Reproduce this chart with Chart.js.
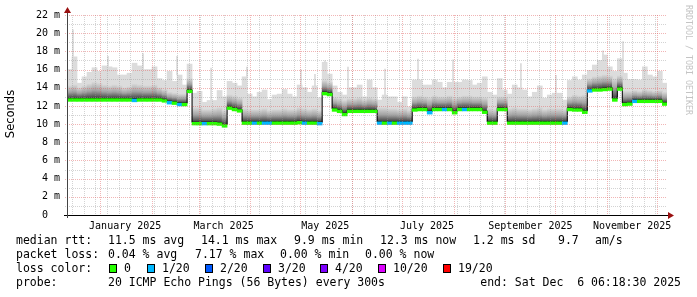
<!DOCTYPE html>
<html>
<head>
<meta charset="utf-8">
<script src="https://cdn.jsdelivr.net/npm/chart.js@4.4.1/dist/chart.umd.min.js"></script>
<style>
html, body { margin: 0; padding: 0; background: #fff; }
</style>
</head>
<body>
<canvas id="smoke" width="697" height="297"></canvas>
<script>
// x axis: days since 2025-01-01 00:00
var X_MIN = -19.9, X_MAX = 339.9;
var START = -19.9, STEP = 3;   // one sample every 3 days

// median rtt (ms)
var MEDIAN = [
  12.8,12.8,12.8,12.8,12.8,12.8,12.8,12.8,12.8,12.8,
  12.8,12.8,12.8,12.75,12.8,12.8,12.8,12.8,12.8,12.7,
  12.5,12.45,12.3,12.3,13.75,10.2,10.2,10.2,10.2,10.2,
  10.15,9.95,11.9,11.75,11.6,10.25,10.25,10.25,10.25,10.25,
  10.25,10.25,10.25,10.25,10.25,10.25,10.3,10.25,10.25,10.25,
  10.2,13.5,13.4,11.7,11.55,11.2,11.55,11.55,11.55,11.55,
  11.55,11.55,10.25,10.25,10.25,10.25,10.25,10.25,10.25,11.7,
  11.75,11.75,11.4,11.75,11.75,11.75,11.75,11.4,11.75,11.75,
  11.75,11.75,11.75,11.45,10.25,10.25,11.75,11.75,10.25,10.25,
  10.25,10.25,10.25,10.25,10.25,10.25,10.25,10.25,10.25,10.25,
  11.75,11.7,11.7,11.45,13.8,13.9,13.9,13.95,14.0,12.8,
  14.0,12.3,12.35,12.65,12.65,12.65,12.65,12.65,12.65,12.35
];
// top of the dense smoke (ms)
var SMOKE_HI = [
  14.2,14.3,14.0,14.2,14.4,14.6,14.5,14.3,14.2,14.3,
  14.2,14.0,14.1,14.4,14.3,14.2,14.2,14.3,14.0,13.8,
  13.5,13.4,13.3,13.3,15.0,11.8,11.8,11.6,11.6,11.7,
  11.8,11.5,13.2,13.1,12.9,11.7,11.6,11.6,11.6,11.7,
  11.5,11.6,11.6,11.7,11.6,11.6,11.8,11.7,11.6,11.7,
  11.5,14.8,14.6,12.9,12.8,12.6,12.8,12.8,12.9,12.7,
  12.9,12.8,11.8,11.8,11.7,11.7,11.6,11.7,11.5,13.0,
  13.1,13.0,12.9,13.1,13.0,13.0,13.1,12.9,13.0,13.1,
  13.1,13.0,13.0,12.9,11.7,11.6,13.0,13.0,11.7,11.8,
  11.7,11.7,11.6,11.7,11.8,11.6,11.7,11.7,11.7,11.6,
  13.0,13.2,13.1,13.2,15.0,15.2,15.3,15.4,15.3,15.0,
  15.3,13.6,13.6,13.7,13.6,13.8,13.7,13.6,13.7,13.5
];
// max rtt (ms)
var MAX = [
  16.0,17.4,14.5,15.2,15.7,16.2,15.8,16.4,16.3,16.2,
  15.4,15.4,15.6,16.7,16.4,16.0,16.0,16.3,15.0,14.8,
  15.8,14.7,15.4,14.3,16.6,13.4,13.6,12.4,12.6,12.6,
  13.7,13.0,14.7,14.5,14.2,15.2,13.3,13.0,13.5,13.75,
  12.7,13.2,13.3,13.8,13.3,13.0,14.3,14.0,13.5,14.2,
  12.9,16.8,15.5,14.2,13.5,13.2,14.0,14.0,14.3,13.0,
  14.85,14.0,12.65,13.2,13.0,13.0,12.4,13.0,11.9,14.85,
  14.85,14.3,14.3,14.85,14.6,14.0,14.6,14.6,14.6,14.85,
  14.8,14.3,14.5,15.2,13.5,13.2,15.0,13.75,13.3,14.3,
  14.0,13.75,13.0,13.5,14.2,12.85,13.2,13.4,13.4,12.65,
  14.8,15.2,14.85,15.4,15.9,16.5,17.0,17.6,16.3,15.8,
  17.2,15.6,14.9,14.9,14.85,16.3,15.4,15.2,15.8,14.5
];
// lost pings out of 20
var LOSS = [
  0,0,0,0,0,0,0,0,0,0,
  0,0,0,1,0,0,0,0,0,0,
  1,0,1,0,0,0,0,1,0,0,
  0,0,0,0,0,0,0,1,0,1,
  1,0,0,0,0,0,0,1,0,0,
  1,0,0,0,0,0,0,0,0,0,
  0,0,1,0,1,0,1,1,1,0,
  0,0,1,0,0,1,0,0,0,1,
  0,0,0,0,0,0,0,0,0,0,
  0,0,0,0,0,0,0,0,0,1,
  0,0,0,0,1,0,0,0,0,0,
  0,0,0,1,0,0,0,0,0,0
];
// thin single-sample spikes
var SPIKE_DAY = [-16.3, 4.7, 25.7, 46.1, 66.5, 88.0, 120.4, 128.8, 134.8, 148.6, 170.8, 190.6, 211.6, 241.0, 252.3, 273.3, 301.5, 313.5];
var SPIKE_VAL = [20.4, 17.5, 17.8, 17.5, 16.2, 16.3, 16.0, 15.5, 17.0, 16.3, 16.1, 17.2, 17.1, 15.0, 16.7, 15.4, 18.1, 19.1];

var MONTH_LABELS = ["January 2025", "March 2025", "May 2025", "July 2025", "September 2025", "November 2025"];
var MONTH_LABEL_DAY = [15, 74, 135, 196, 258, 319];
var LOSS_LEVELS = [0, 1, 2, 3, 4, 10, 19];
var LOSS_COLORS = ["#26ff00", "#00b8ff", "#0059ff", "#5e00ff", "#7e00ff", "#dd00ff", "#ff0000"];
var LOSS_NAMES = ["0", "1/20", "2/20", "3/20", "4/20", "10/20", "19/20"];

var MONO = '"DejaVu Sans Mono", monospace';

function dayOf(y, m, d) { return (Date.UTC(y, m, d) - Date.UTC(2025, 0, 1)) / 86400000; }
function centre(i) { return START + STEP * (i + 0.5); }

var maxBars = MAX.map(function (v, i) { return {x: centre(i), y: [MEDIAN[i], v]}; });
var hiBars = SMOKE_HI.map(function (v, i) { return {x: centre(i), y: [MEDIAN[i], v]}; });
var lossBars = MEDIAN.map(function (v, i) { return {x: centre(i), y: [v - 0.3, v]}; });
var medLine = MEDIAN.map(function (v, i) { return {x: START + STEP * i, y: v}; });
medLine.push({x: START + STEP * MEDIAN.length, y: MEDIAN[MEDIAN.length - 1]});
var spikeLine = [];
SPIKE_DAY.forEach(function (d, k) {
  var idx = Math.floor((d - START) / STEP);
  spikeLine.push({x: d, y: MAX[idx]}, {x: d, y: SPIKE_VAL[k]}, {x: d, y: null});
});

function smokeGradient(c) {
  var chart = c.chart;
  if (c.dataIndex === undefined || !chart.chartArea) return '#999';
  var y = chart.scales.y;
  var y0 = y.getPixelForValue(MEDIAN[c.dataIndex]);
  var y1 = y.getPixelForValue(SMOKE_HI[c.dataIndex]);
  var g = chart.ctx.createLinearGradient(0, y0, 0, y1);
  g.addColorStop(0, '#3a3a3a');
  g.addColorStop(0.18, '#626262');
  g.addColorStop(0.5, '#a2a2a2');
  g.addColorStop(1, '#d6d6d6');
  return g;
}

var gridPlugin = {
  id: 'rrdgrid',
  afterDatasetsDraw: function (chart) {
    var ctx = chart.ctx, a = chart.chartArea, x = chart.scales.x, y = chart.scales.y;
    var minor = 'rgba(150,150,150,0.42)', major = 'rgba(225,90,90,0.45)';
    ctx.save();
    ctx.lineWidth = 1;
    ctx.setLineDash([1, 1]);
    function hline(v, col) {
      var py = Math.round(y.getPixelForValue(v)) + 0.5;
      ctx.strokeStyle = col;
      ctx.beginPath(); ctx.moveTo(a.left - 2, py); ctx.lineTo(a.right, py); ctx.stroke();
    }
    function vline(d, col) {
      var px = Math.round(x.getPixelForValue(d)) + 0.5;
      ctx.strokeStyle = col;
      ctx.beginPath(); ctx.moveTo(px, a.top); ctx.lineTo(px, a.bottom + 2); ctx.stroke();
    }
    for (var v = 1; v <= 22; v += 2) hline(v, minor);
    for (var d = dayOf(2024, 11, 15); d < X_MAX; d += 7) vline(d, minor);
    for (v = 2; v <= 22; v += 2) hline(v, major);
    for (var m = 0; m < 12; m++) vline(dayOf(2025, m, 1), major);
    ctx.restore();

    // axes and arrows
    ctx.save();
    ctx.strokeStyle = '#000';
    ctx.lineWidth = 1;
    ctx.beginPath(); ctx.moveTo(a.left - 3, a.bottom + 0.5); ctx.lineTo(a.right + 5, a.bottom + 0.5); ctx.stroke();
    ctx.strokeStyle = '#444';
    ctx.beginPath(); ctx.moveTo(a.left + 0.5, a.bottom + 3); ctx.lineTo(a.left + 0.5, a.top - 4); ctx.stroke();
    ctx.fillStyle = '#9a1010';
    ctx.beginPath(); ctx.moveTo(a.left - 3, a.top - 2); ctx.lineTo(a.left + 4, a.top - 2); ctx.lineTo(a.left + 0.5, a.top - 8); ctx.closePath(); ctx.fill();
    ctx.beginPath(); ctx.moveTo(a.right + 1, a.bottom - 3); ctx.lineTo(a.right + 1, a.bottom + 4); ctx.lineTo(a.right + 7, a.bottom + 0.5); ctx.closePath(); ctx.fill();
    ctx.restore();
  }
};

var textPlugin = {
  id: 'rrdtext',
  afterDraw: function (chart) {
    var ctx = chart.ctx;
    ctx.save();
    // y title
    ctx.fillStyle = '#000';
    ctx.font = '11.5px "DejaVu Sans", sans-serif';
    ctx.textAlign = 'center';
    ctx.textBaseline = 'middle';
    ctx.translate(11, 114);
    ctx.rotate(-Math.PI / 2);
    ctx.fillText('Seconds', 0, 0);
    ctx.restore();

    // watermark
    ctx.save();
    ctx.fillStyle = '#c4c4c4';
    ctx.font = '8.3px ' + MONO;
    ctx.textAlign = 'left';
    ctx.textBaseline = 'middle';
    ctx.translate(688, 5);
    ctx.rotate(Math.PI / 2);
    ctx.fillText('RRDTOOL / TOBI OETIKER', 0, 0);
    ctx.restore();

    // legend
    ctx.save();
    ctx.fillStyle = '#000';
    ctx.font = '11.5px ' + MONO;
    ctx.textBaseline = 'middle';
    ctx.textAlign = 'left';
    var rows = [
      [241, [[16, 'median rtt:'], [108, '11.5 ms avg'], [201, '14.1 ms max'], [294, '9.9 ms min'], [380, '12.3 ms now'], [473, '1.2 ms sd'], [558, '9.7'], [595, 'am/s']]],
      [255, [[16, 'packet loss:'], [108, '0.04 % avg'], [195, '7.17 % max'], [280, '0.00 % min'], [365, '0.00 % now']]],
      [269, [[16, 'loss color:']]],
      [283, [[16, 'probe:'], [108, '20 ICMP Echo Pings (56 Bytes) every 300s']]]
    ];
    rows.forEach(function (r) {
      r[1].forEach(function (p) { ctx.fillText(p[1], p[0], r[0] + 0.5); });
    });
    var boxX = [109, 147, 205, 263, 320, 378, 443];
    LOSS_NAMES.forEach(function (n, k) {
      ctx.fillStyle = LOSS_COLORS[k];
      ctx.fillRect(boxX[k], 264, 8, 9);
      ctx.strokeStyle = '#000';
      ctx.lineWidth = 1;
      ctx.strokeRect(boxX[k] + 0.5, 264.5, 7, 8);
      ctx.fillStyle = '#000';
      ctx.fillText(n, boxX[k] + 15, 269.5);
    });
    ctx.textAlign = 'right';
    ctx.fillText('end: Sat Dec  6 06:18:30 2025', 681, 283.5);
    ctx.restore();
  }
};

Chart.defaults.color = '#000';
Chart.defaults.font.family = MONO;

new Chart(document.getElementById('smoke'), {
  type: 'bar',
  data: {
    datasets: [
      {type: 'bar', data: lossBars, order: 1, grouped: false, borderWidth: 0,
        barPercentage: 1, categoryPercentage: 1,
        backgroundColor: function (c) {
          if (c.dataIndex === undefined) return LOSS_COLORS[0];
          return LOSS_COLORS[LOSS_LEVELS.indexOf(LOSS[c.dataIndex])];
        }},
      {type: 'line', data: medLine, order: 2, stepped: true, borderColor: '#000', borderWidth: 1,
        pointRadius: 0, fill: false},
      {type: 'bar', data: hiBars, order: 3, grouped: false, borderWidth: 0,
        barPercentage: 1, categoryPercentage: 1, backgroundColor: smokeGradient},
      {type: 'line', data: spikeLine, order: 4, spanGaps: false, borderColor: '#d6d6d6', borderWidth: 1.5,
        pointRadius: 0, fill: false},
      {type: 'bar', data: maxBars, order: 5, grouped: false, borderWidth: 0,
        barPercentage: 1, categoryPercentage: 1, backgroundColor: '#dcdcdc'}
    ]
  },
  options: {
    responsive: false,
    animation: false,
    devicePixelRatio: 1,
    layout: {padding: {left: 0, right: 30, top: 15, bottom: 0}},
    plugins: {legend: {display: false}, tooltip: {enabled: false}},
    scales: {
      x: {
        type: 'linear', min: X_MIN, max: X_MAX, offset: false,
        grid: {display: false, drawTicks: false}, border: {display: false},
        afterFit: function (s) { s.height = 82; },
        afterBuildTicks: function (s) { s.ticks = MONTH_LABEL_DAY.map(function (v) { return {value: v}; }); },
        ticks: {autoSkip: false, maxRotation: 0, padding: 5, font: {size: 10, family: MONO},
          callback: function (v, i) { return MONTH_LABELS[i]; }}
      },
      y: {
        type: 'linear', min: 0, max: 22,
        grid: {display: false, drawTicks: false}, border: {display: false},
        afterFit: function (s) { s.width = 67; },
        ticks: {stepSize: 2, padding: 7, font: {size: 10, family: MONO},
          callback: function (v) { return v === 0 ? '0  ' : v + ' m'; }}
      }
    }
  },
  plugins: [gridPlugin, textPlugin]
});
</script>
</body>
</html>
